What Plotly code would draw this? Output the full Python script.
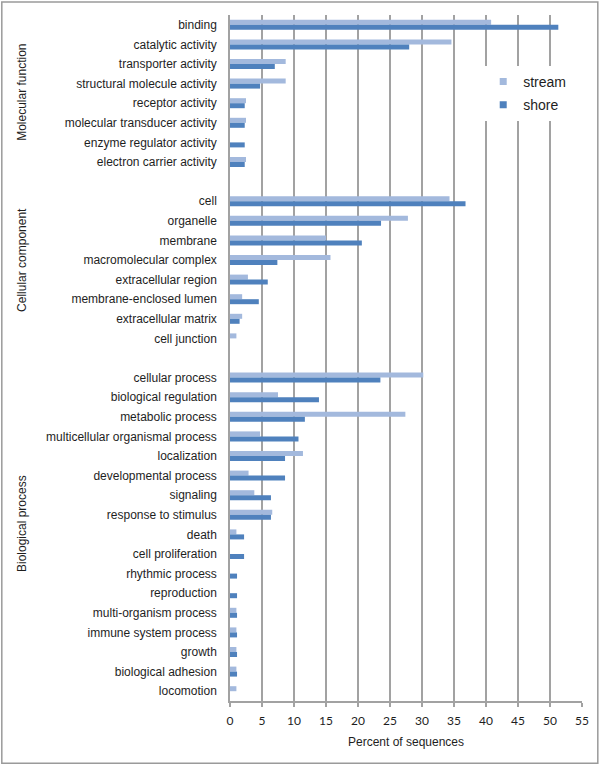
import plotly.graph_objects as go

# ---- data ----
mf_terms = ["binding", "catalytic activity", "transporter activity", "structural molecule activity",
            "receptor activity", "molecular transducer activity", "enzyme regulator activity",
            "electron carrier activity"]
mf_stream = [40.8, 34.6, 8.7, 8.7, 2.5, 2.5, 0, 2.5]
mf_shore = [51.3, 28.0, 7.0, 4.7, 2.3, 2.3, 2.3, 2.3]

cc_terms = ["cell", "organelle", "membrane", "macromolecular complex", "extracellular region",
            "membrane-enclosed lumen", "extracellular matrix", "cell junction"]
cc_stream = [34.3, 27.8, 15.0, 15.7, 2.8, 1.9, 1.9, 1.0]
cc_shore = [36.8, 23.6, 20.6, 7.4, 5.9, 4.5, 1.5, 0]

bp_terms = ["cellular process", "biological regulation", "metabolic process",
            "multicellular organismal process", "localization", "developmental process",
            "signaling", "response to stimulus", "death", "cell proliferation",
            "rhythmic process", "reproduction", "multi-organism process",
            "immune system process", "growth", "biological adhesion", "locomotion"]
bp_stream = [30.2, 7.5, 27.4, 4.7, 11.4, 2.9, 3.8, 6.6, 1.0, 0, 0, 0, 1.0, 1.0, 1.0, 1.0, 1.0]
bp_shore = [23.5, 13.9, 11.7, 10.7, 8.6, 8.6, 6.4, 6.4, 2.2, 2.2, 1.1, 1.1, 1.1, 1.1, 1.1, 1.1, 0]

group_titles = ["Molecular function", "Cellular component", "Biological process"]
series_names = ["stream", "shore"]
x_ticks = list(range(0, 56, 5))

# ---- build category list with spacer rows between groups ----
spacer1, spacer2 = " ", "  "
categories = mf_terms + [spacer1] + cc_terms + [spacer2] + bp_terms
stream_vals = mf_stream + [None] + cc_stream + [None] + bp_stream
shore_vals = mf_shore + [None] + cc_shore + [None] + bp_shore

c_stream = "#a3b9dd"
c_shore = "#4f81bd"
grid_c = "#a2a2a2"
txt_c = "#1e1e1e"

fig = go.Figure()
fig.add_trace(go.Bar(y=categories, x=stream_vals, orientation="h", name=series_names[0],
                     marker=dict(color=c_stream, line=dict(width=0)), showlegend=False))
fig.add_trace(go.Bar(y=categories, x=shore_vals, orientation="h", name=series_names[1],
                     marker=dict(color=c_shore, line=dict(width=0)), showlegend=False))
# legend entries with small square symbols
fig.add_trace(go.Scatter(x=[None], y=[None], mode="markers", name=series_names[0],
                         marker=dict(symbol="square", size=7, color=c_stream), legendgroup="a"))
fig.add_trace(go.Scatter(x=[None], y=[None], mode="markers", name=series_names[1],
                         marker=dict(symbol="square", size=7, color=c_shore), legendgroup="b"))

L, R, T, B = 230, 18.3, 15, 64.3
W, H = 600, 765
pw, ph = W - L - R, H - T - B

def px_x(x):
    return (x - L) / pw

def px_y(y):
    return 1 - (y - T) / ph

fig.update_layout(
    width=W, height=H,
    margin=dict(l=L, r=R, t=T, b=B),
    paper_bgcolor="white", plot_bgcolor="white",
    barmode="group", bargap=0.49, bargroupgap=0,
    font=dict(family="Liberation Sans, Arial, sans-serif", size=12, color=txt_c),
    showlegend=True,
    legend=dict(x=px_x(483), y=px_y(66), xanchor="left", yanchor="top",
                bgcolor="white", borderwidth=0, font=dict(size=14),
                traceorder="grouped", tracegroupgap=2, itemwidth=30),
    xaxis=dict(range=[0, 55], tickvals=x_ticks, ticktext=[str(v) for v in x_ticks],
               showgrid=True, gridcolor=grid_c, gridwidth=1.5, zeroline=False,
               showline=True, linecolor=grid_c, linewidth=1.5,
               ticks="outside", ticklen=4, tickcolor=grid_c, tickwidth=1.5,
               tickfont=dict(family="Lato, Liberation Sans, sans-serif", size=12, color=txt_c),
               ticklabelstandoff=4,
               title=dict(text="Percent of sequences", standoff=10,
                          font=dict(family="Liberation Sans, Arial, sans-serif", size=12))),
    yaxis=dict(type="category", categoryorder="array", categoryarray=categories,
               range=[len(categories) - 0.5, -0.5], showgrid=False, zeroline=False,
               showline=True, linecolor=grid_c, linewidth=1.5, ticks="",
               ticklabelstandoff=9, tickfont=dict(size=12, color=txt_c)),
    shapes=[dict(type="rect", xref="paper", yref="paper",
                 x0=px_x(2), x1=px_x(597.5), y0=px_y(763), y1=px_y(2),
                 line=dict(color="#9a9a9a", width=1.5), fillcolor="rgba(0,0,0,0)", layer="below")],
)

title_y = [92, 260, 523]
for t, yy in zip(group_titles, title_y):
    fig.add_annotation(text=t, textangle=-90, xref="paper", yref="paper",
                       x=px_x(22), y=px_y(yy), showarrow=False,
                       font=dict(size=12, color=txt_c), xanchor="center", yanchor="middle")

fig.write_html("out.html", config={"displayModeBar": False},
               post_script="document.body.style.margin='0';document.body.style.padding='0';")
